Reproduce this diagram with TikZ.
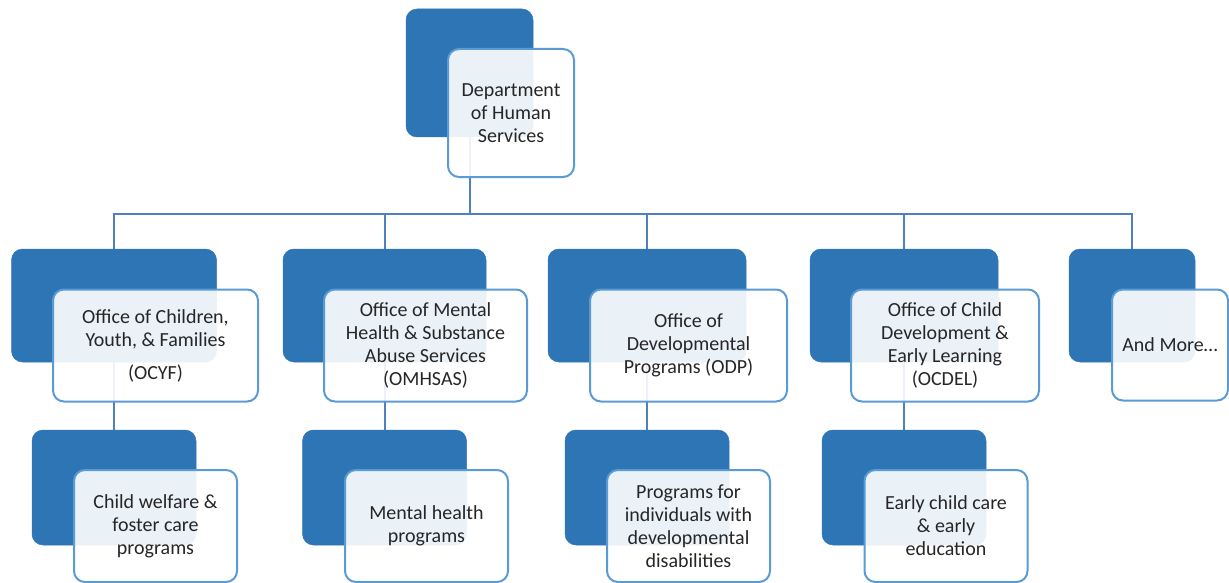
\documentclass[tikz,border=0pt]{standalone}
\usepackage{fontspec}
\setmainfont{Carlito}
\pgfdeclarelayer{bg}
\pgfsetlayers{bg,main}
\definecolor{darkblue}{HTML}{2E75B6}
\definecolor{lightedge}{HTML}{5B9BD5}
\definecolor{connblue}{HTML}{4F81BD}
\tikzset{
  darkbox/.style={fill=darkblue, draw=darkblue, line width=0.5pt, rounded corners=11pt, inner sep=0pt, outer sep=0pt},
  whitebox/.style={fill=white, fill opacity=0.9, text opacity=1, draw=lightedge, line width=2pt, rounded corners=11pt, inner sep=0pt, outer sep=0pt, align=center, font=\fontsize{20pt}{23pt}\selectfont, text=black!85},
  conn/.style={draw=connblue, line width=2pt},
}
\begin{document}
\begin{tikzpicture}[x=1pt,y=-1pt]
\useasboundingbox (0,0) rectangle (1229,583);
% top
\node[darkbox, minimum width=127pt, minimum height=128pt] (d0) at (469.5,73) {};
% level 1 dark boxes
\node[darkbox, minimum width=205pt, minimum height=113pt] (d1) at (114,305.5) {};
\node[darkbox, minimum width=203pt, minimum height=113pt] (d2) at (384.5,305.5) {};
\node[darkbox, minimum width=198pt, minimum height=113pt] (d3) at (647,305.5) {};
\node[darkbox, minimum width=188pt, minimum height=113pt] (d4) at (904,305.5) {};
\node[darkbox, minimum width=126pt, minimum height=113pt] (d5) at (1132,305.5) {};
% level 2 dark boxes
\node[darkbox, minimum width=164pt, minimum height=115pt] (e1) at (114,487.5) {};
\node[darkbox, minimum width=164pt, minimum height=115pt] (e2) at (384.5,487.5) {};
\node[darkbox, minimum width=164pt, minimum height=115pt] (e3) at (647,487.5) {};
\node[darkbox, minimum width=164pt, minimum height=115pt] (e4) at (904,487.5) {};
% connectors
\begin{pgfonlayer}{bg}
\coordinate (bus) at (469.5,214);
\draw[conn] (d0.center) -- (bus);
\draw[conn] (bus) -| (d1.center);
\draw[conn] (bus) -| (d2.center);
\draw[conn] (bus) -| (d3.center);
\draw[conn] (bus) -| (d4.center);
\draw[conn] (bus) -| (d5.center);
\draw[conn] (d1.center) -- (e1.center);
\draw[conn] (d2.center) -- (e2.center);
\draw[conn] (d3.center) -- (e3.center);
\draw[conn] (d4.center) -- (e4.center);
\end{pgfonlayer}
% white boxes
\node[whitebox, minimum width=126pt, minimum height=128pt] (w0) at (511,113) {Department\\of Human\\Services};
\node[whitebox, minimum width=205pt, minimum height=112pt] (w1) at (155.5,345.5) {Office of Children,\\Youth, \& Families\\[10pt](OCYF)};
\node[whitebox, minimum width=203pt, minimum height=112pt] (w2) at (425.5,345.5) {Office of Mental\\Health \& Substance\\Abuse Services\\(OMHSAS)};
\node[whitebox, minimum width=197pt, minimum height=112pt] (w3) at (688.5,345.5) {Office of\\Developmental\\Programs (ODP)};
\node[whitebox, minimum width=188pt, minimum height=112pt] (w4) at (945,345.5) {Office of Child\\Development \&\\Early Learning\\(OCDEL)};
\node[whitebox, minimum width=116pt, minimum height=111pt] (w5) at (1170,345) {And More\ldots};
\node[whitebox, minimum width=163pt, minimum height=112pt] (f1) at (155.5,526) {Child welfare \&\\foster care\\programs};
\node[whitebox, minimum width=163pt, minimum height=112pt] (f2) at (426.5,526) {Mental health\\programs};
\node[whitebox, minimum width=163pt, minimum height=112pt] (f3) at (688.5,526) {Programs for\\individuals with\\developmental\\disabilities};
\node[whitebox, minimum width=163pt, minimum height=112pt] (f4) at (946,526) {Early child care\\\& early\\education};
\end{tikzpicture}
\end{document}
